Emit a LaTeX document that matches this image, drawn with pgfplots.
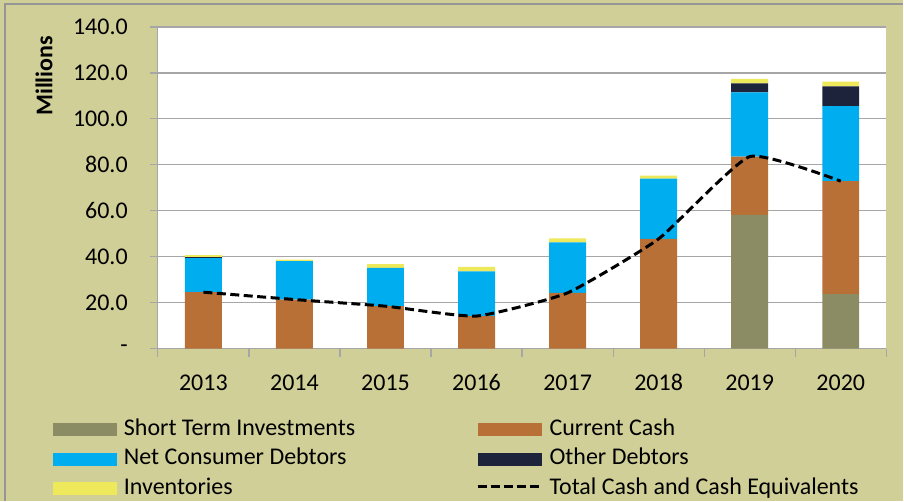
\documentclass[border=0pt]{standalone}
\usepackage{pgfplots}
\pgfplotsset{compat=1.18}
\usepackage{fontspec}
\setmainfont{Carlito}
\definecolor{bgk}{RGB}{208,207,151}
\definecolor{frameg}{RGB}{150,150,150}
\definecolor{gridg}{RGB}{166,166,166}
\definecolor{cSTI}{RGB}{139,139,100}
\definecolor{cCC}{RGB}{184,112,54}
\definecolor{cNCD}{RGB}{0,174,239}
\definecolor{cOD}{RGB}{30,35,60}
\definecolor{cInv}{RGB}{237,233,90}
\newcommand{\bigf}{\fontsize{24bp}{28bp}\selectfont}
\begin{document}
\begin{tikzpicture}[x=1bp,y=1bp]
\fill[bgk] (0,0) rectangle (904,501);
\draw[frameg, line width=1.5bp] (5,0) -- (5,497) -- (904,497);
\begin{axis}[
  at={(158bp,152bp)}, anchor=south west,
  width=729bp, height=322bp, scale only axis,
  axis background/.style={fill=white},
  xmin=-0.5, xmax=7.5, ymin=0, ymax=140,
  ybar stacked, bar width=37bp,
  axis x line*=bottom, axis y line*=left,
  axis line style={gridg, line width=1.2bp},
  ymajorgrids, grid style={gridg, line width=1.2bp},
  xtick={0,...,7},
  xticklabels={2013,2014,2015,2016,2017,2018,2019,2020},
  minor xtick={-0.5,0.5,...,7.5},
  ytick={0,20,...,140},
  yticklabels={-,20.0,40.0,60.0,80.0,100.0,120.0,140.0},
  tick align=outside,
  major x tick style={draw=none},
  minor x tick style={gridg, line width=1.2bp},
  major y tick style={gridg, line width=1.2bp},
  major tick length=8bp, minor tick length=8bp,
  tick label style={font=\bigf, text=black},
  yticklabel style={anchor=east, inner sep=0pt, xshift=-22bp},
  xticklabel style={anchor=north, inner sep=0pt, text height=16bp, text depth=0bp, yshift=-18bp},
  ylabel={\bfseries Millions},
  ylabel style={at={(axis description cs:-0.1564,0.848)}, anchor=center, font=\bigf},
  legend columns=2,
  legend cell align=left,
  legend style={at={(axis description cs:-0.1436,-0.216)}, anchor=north west,
    draw=none, fill=none, font=\bigf, inner sep=0pt, row sep=7.5bp, column sep=6.5bp,
    nodes={inner sep=0pt, text height=17bp, text depth=5bp},
    /tikz/column 2/.style={column sep=121bp}},
]
\addplot[fill=cSTI, draw=none, legend image code/.code={\fill[cSTI] (0bp,-7bp) rectangle (64bp,6bp);}]
  coordinates {(0,0) (1,0) (2,0) (3,0) (4,0) (5,0) (6,58.2) (7,23.7)};
\addlegendentry{Short Term Investments}
\addplot[fill=cCC, draw=none, legend image code/.code={\fill[cCC] (0bp,-7bp) rectangle (64bp,6bp);}]
  coordinates {(0,24.6) (1,21.4) (2,18.5) (3,14.2) (4,24.3) (5,47.8) (6,25.4) (7,49.2)};
\addlegendentry{Current Cash}
\addplot[fill=cNCD, draw=none, legend image code/.code={\fill[cNCD] (0bp,-7bp) rectangle (64bp,6bp);}]
  coordinates {(0,14.8) (1,16.7) (2,16.7) (3,19.4) (4,22.0) (5,26.2) (6,27.9) (7,32.7)};
\addlegendentry{Net Consumer Debtors}
\addplot[fill=cOD, draw=none, legend image code/.code={\fill[cOD] (0bp,-7bp) rectangle (64bp,6bp);}]
  coordinates {(0,0.4) (1,0) (2,0) (3,0) (4,0) (5,0) (6,4.0) (7,8.6)};
\addlegendentry{Other Debtors}
\addplot[fill=cInv, draw=none, legend image code/.code={\fill[cInv] (0bp,-7bp) rectangle (64bp,6bp);}]
  coordinates {(0,0.9) (1,0.7) (2,1.6) (3,2.0) (4,1.7) (5,1.3) (6,1.9) (7,2.0)};
\addlegendentry{Inventories}
\addlegendimage{legend image code/.code={\draw[black, line width=3bp, dash pattern=on 9bp off 4bp] (0bp,1.5bp) -- (64bp,1.5bp);}}
\addlegendentry{Total Cash and Cash Equivalents}
\end{axis}
\begin{axis}[
  at={(158bp,152bp)}, anchor=south west,
  width=729bp, height=322bp, scale only axis,
  xmin=-0.5, xmax=7.5, ymin=0, ymax=140,
  hide axis,
]
\addplot[black, line width=3bp, dash pattern=on 9bp off 4.5bp, smooth, tension=0.28, mark=none]
  coordinates {(0,24.6) (1,21.4) (2,18.5) (3,14.2) (4,24.3) (5,47.8) (6,83.6) (7,72.9)};
\end{axis}
\end{tikzpicture}
\end{document}
